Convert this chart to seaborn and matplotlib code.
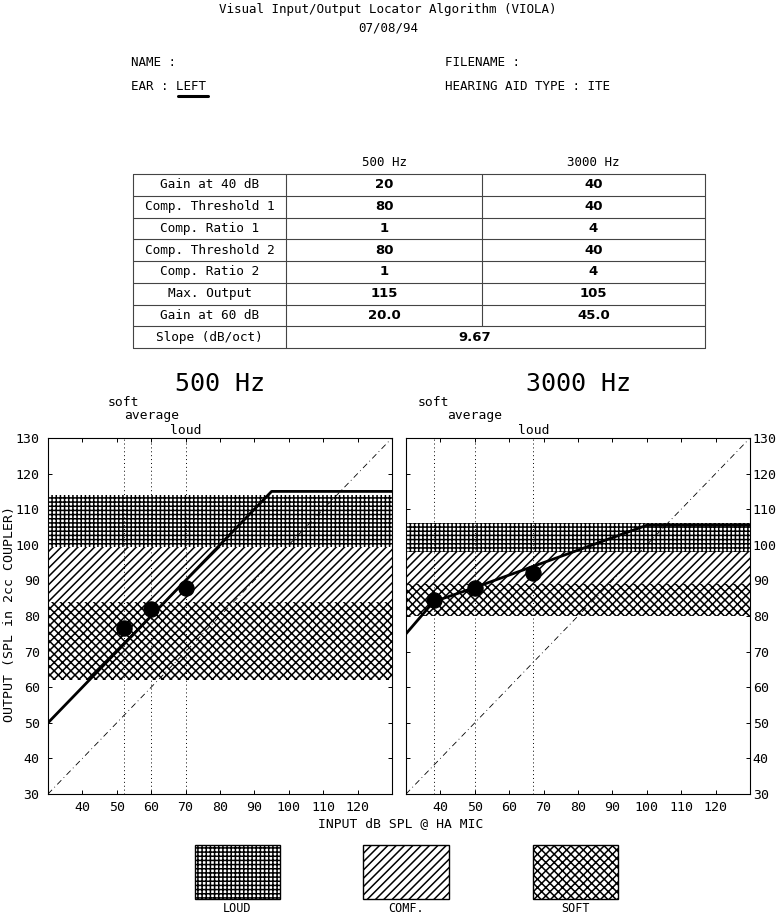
import matplotlib
matplotlib.use("Agg")
import matplotlib.pyplot as plt
import seaborn as sns
import numpy as np
from matplotlib.patches import Rectangle

# ---------------- data ----------------
title_text = "Visual Input/Output Locator Algorithm (VIOLA)"
date_text = "07/08/94"
row_labels = ["Gain at 40 dB", "Comp. Threshold 1", "Comp. Ratio 1", "Comp. Threshold 2",
              "Comp. Ratio 2", "Max. Output", "Gain at 60 dB", "Slope (dB/oct)"]
vals_500 = ["20", "80", "1", "80", "1", "115", "20.0"]
vals_3000 = ["40", "40", "4", "40", "4", "105", "45.0"]
slope_val = "9.67"

# I/O curves
io_in_500 = [30, 95, 130]
io_out_500 = [50, 115, 115]
io_in_3000 = [30, 38, 50, 100, 130]
io_out_3000 = [75, 84, 88, 105.5, 105.5]

# speech levels (soft, average, loud)
level_names = ["soft", "average", "loud"]
lvl_in_500 = [52, 60, 70]
lvl_out_500 = [76.5, 82, 88]
lvl_in_3000 = [38, 50, 67]
lvl_out_3000 = [84.5, 88, 92]

# loudness bands (low, high)
bands_500 = {"SOFT": (62, 84), "COMF.": (84, 99.5), "LOUD": (99.5, 114)}
bands_3000 = {"SOFT": (80, 89), "COMF.": (89, 98), "LOUD": (98, 106)}
band_hatch = {"LOUD": "++++", "COMF.": "////", "SOFT": "xxxx"}

x_ticks = [40, 50, 60, 70, 80, 90, 100, 110, 120]
y_ticks = [30, 40, 50, 60, 70, 80, 90, 100, 110, 120, 130]

# ---------------- style ----------------
sns.set_theme(style="white")
plt.rcParams['font.family'] = ['DejaVu Sans Mono', 'DejaVu Sans']
plt.rcParams['hatch.linewidth'] = 1.1
plt.rcParams['hatch.color'] = 'black'

W, H = 777, 915
fig = plt.figure(figsize=(W / 100, H / 100), dpi=100)
fig.patch.set_facecolor("white")

# canvas in pixel coords for header/table/legend
cv = fig.add_axes([0, 0, 1, 1], zorder=0)
cv.set_xlim(0, W)
cv.set_ylim(H, 0)
cv.set_axis_off()
cv.patch.set_alpha(0)

txt_kw = dict(color="black", fontsize=9, va="center")
cv.text(388, 10, title_text, ha="center", **txt_kw)
cv.text(388, 28, date_text, ha="center", **txt_kw)
cv.text(131, 62, "NAME :", ha="left", **txt_kw)
cv.text(131, 86, "EAR : LEFT", ha="left", **txt_kw)
cv.plot([178, 208], [96, 96], color="black", lw=2.2, solid_capstyle="round")
cv.text(445, 62, "FILENAME :", ha="left", **txt_kw)
cv.text(445, 86, "HEARING AID TYPE : ITE", ha="left", **txt_kw)

# table
tx0, tx1, tx2, tx3 = 133, 286, 482, 705
ty0, ty1 = 174, 348
nrows = len(row_labels)
rh = (ty1 - ty0) / nrows
lc = "#444444"
cv.text((tx1 + tx2) / 2, 162, "500 Hz", ha="center", **txt_kw)
cv.text((tx2 + tx3) / 2, 162, "3000 Hz", ha="center", **txt_kw)
for i in range(nrows + 1):
    y = ty0 + i * rh
    cv.plot([tx0, tx3], [y, y], color=lc, lw=0.8)
for x in (tx0, tx1, tx3):
    cv.plot([x, x], [ty0, ty1], color=lc, lw=0.8)
cv.plot([tx2, tx2], [ty0, ty0 + (nrows - 1) * rh], color=lc, lw=0.8)
for i, lab in enumerate(row_labels):
    yc = ty0 + (i + 0.5) * rh
    cv.text((tx0 + tx1) / 2, yc, lab, ha="center", fontsize=9.2, va="center", color="black")
    if i < len(vals_500):
        cv.text((tx1 + tx2) / 2, yc, vals_500[i], ha="center", va="center",
                fontsize=9.5, fontweight="bold", family="DejaVu Sans", color="black")
        cv.text((tx2 + tx3) / 2, yc, vals_3000[i], ha="center", va="center",
                fontsize=9.5, fontweight="bold", family="DejaVu Sans", color="black")
    else:
        cv.text(475, yc, slope_val, ha="center", va="center",
                fontsize=9.5, fontweight="bold", family="DejaVu Sans", color="black")

# ---------------- plots ----------------
ax_w = 344 / W
ax_h = 356 / H
ax_b = 1 - 794 / H
axL = fig.add_axes([48 / W, ax_b, ax_w, ax_h], zorder=1)
axR = fig.add_axes([406 / W, ax_b, ax_w, ax_h], zorder=1)


def draw_panel(ax, bands, io_in, io_out, lvl_in, lvl_out, title, right):
    ax.set_facecolor("white")
    for name in ["SOFT", "COMF.", "LOUD"]:
        lo, hi = bands[name]
        ax.axhspan(lo, hi, facecolor="white", edgecolor="black",
                   hatch=band_hatch[name], linewidth=0, zorder=1)
    ref = np.array([30, 130])
    ax.plot(ref, ref, color="black", lw=0.6, ls=(0, (7, 4, 1, 4)), zorder=2)
    for xv in lvl_in:
        ax.axvline(xv, color="black", lw=0.7, ls=(0, (1, 3)), zorder=2)
    sns.lineplot(x=io_in, y=io_out, ax=ax, color="black", lw=2.0,
                 estimator=None, sort=False, zorder=3)
    sns.scatterplot(x=lvl_in, y=lvl_out, ax=ax, color="black", s=120,
                    edgecolor="black", zorder=4)
    ax.set_xlim(30, 130)
    ax.set_ylim(30, 130)
    ax.set_xticks(x_ticks)
    ax.set_yticks(y_ticks)
    ax.tick_params(axis="both", which="both", direction="in", length=3, width=0.7,
                   labelsize=9.5, colors="black",
                   bottom=True, top=True, left=True, right=True)
    ax.tick_params(axis="x", pad=5)
    if right:
        ax.tick_params(axis="y", labelleft=False, labelright=True, pad=2)
    else:
        ax.tick_params(axis="y", labelleft=True, labelright=False, pad=6)
    for sp in ax.spines.values():
        sp.set_color("black")
        sp.set_linewidth(0.8)
    ax.set_xlabel("")
    ax.set_ylabel("")
    ax.set_title(title, fontsize=18, pad=34, color="black")
    # speech level labels above the plot
    offsets = [1.10, 1.063, 1.022]
    for name, xv, yo in zip(level_names, lvl_in, offsets):
        ax.text(xv, yo, name, transform=ax.get_xaxis_transform(), ha="center",
                va="center", fontsize=9.4, color="black")


draw_panel(axL, bands_500, io_in_500, io_out_500, lvl_in_500, lvl_out_500, "500 Hz", False)
draw_panel(axR, bands_3000, io_in_3000, io_out_3000, lvl_in_3000, lvl_out_3000, "3000 Hz", True)

fig.text(10 / W, 1 - 614 / H, "OUTPUT (SPL in 2cc COUPLER)", rotation=90,
         ha="center", va="center", fontsize=9.5, color="black")
fig.text(401 / W, 1 - 824 / H, "INPUT dB SPL @ HA MIC", ha="center", va="center",
         fontsize=9.4, color="black")

# ---------------- legend boxes ----------------
legend_boxes = [("LOUD", 195, 280), ("COMF.", 363, 449), ("SOFT", 533, 618)]
for name, x0, x1 in legend_boxes:
    cv.add_patch(Rectangle((x0, 845), x1 - x0, 54, facecolor="white", edgecolor="black",
                           hatch=band_hatch[name], linewidth=1.0))
    cv.text((x0 + x1) / 2, 908, name, ha="center", va="center", fontsize=8.5, color="black")

fig.savefig("out.png", dpi=100, facecolor="white")
